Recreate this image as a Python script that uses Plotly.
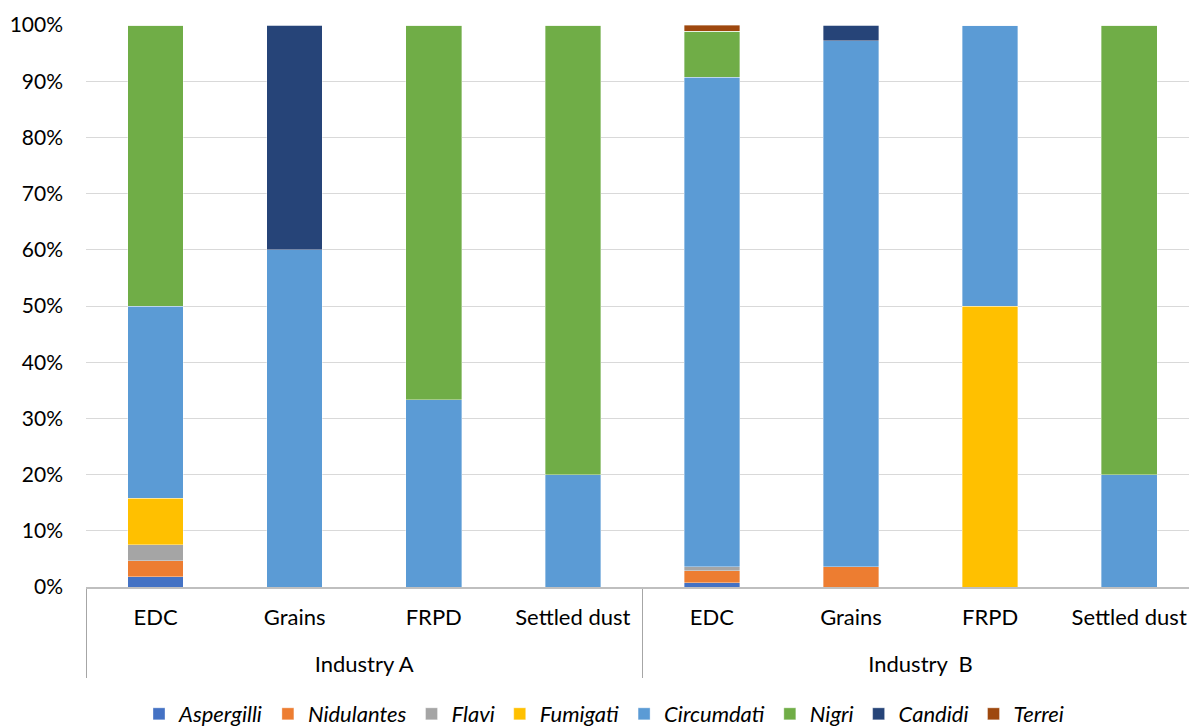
import plotly.graph_objects as go

# Sample sources grouped by industry
industries = ["Industry A"] * 4 + ["Industry\u00a0 B"] * 4
sources = ["EDC", "Grains", "FRPD", "Settled dust"] * 2

# Relative abundance (%) of each Aspergillus section per source
series = {
    "Aspergilli": [1.8, 0, 0, 0, 0.8, 0, 0, 0],
    "Nidulantes": [2.9, 0, 0, 0, 2.1, 3.6, 0, 0],
    "Flavi":      [2.8, 0, 0, 0, 0.7, 0, 0, 0],
    "Fumigati":   [8.3, 0, 0, 0, 0, 0, 50.0, 0],
    "Circumdati": [34.2, 60.0, 33.3, 20.0, 87.1, 93.6, 50.0, 20.0],
    "Nigri":      [50.0, 0, 66.7, 80.0, 8.2, 0, 0, 80.0],
    "Candidi":    [0, 40.0, 0, 0, 0, 2.8, 0, 0],
    "Terrei":     [0, 0, 0, 0, 1.1, 0, 0, 0],
}
colors = ["#4472C4", "#ED7D31", "#A5A5A5", "#FFC000",
          "#5B9BD5", "#70AD47", "#264478", "#9E480E"]

font_family = "Lato, 'Open Sans', sans-serif"

# Source labels get a small blank second line so the industry row sits lower
source_labels = [s + "<br><span style='font-size:17px'>\u00a0</span>" for s in sources]

fig = go.Figure()
for (name, vals), col in zip(series.items(), colors):
    fig.add_trace(go.Bar(
        name=name,
        x=[industries, source_labels],
        y=vals,
        marker=dict(color=col, line=dict(color="rgba(255,255,255,0.6)", width=0.6)),
        width=0.4,
    ))

fig.update_layout(
    barmode="stack",
    width=1189, height=726,
    margin=dict(l=86, r=0, t=25, b=139, autoexpand=False),
    plot_bgcolor="white", paper_bgcolor="white",
    font=dict(family=font_family, size=21, color="#000000"),
    legend=dict(
        orientation="h", traceorder="normal",
        x=0.508, xref="container", xanchor="center",
        y=0.0165, yref="container", yanchor="middle",
        font=dict(family=font_family, size=22, style="italic"),
        itemwidth=30,
    ),
)
fig.update_yaxes(
    range=[0, 100], dtick=10, ticksuffix="%",
    showgrid=True, gridcolor="#D9D9D9", gridwidth=1.3,
    zeroline=False, showline=False, ticks="",
    ticklabelstandoff=22,
    tickfont=dict(size=21),
)
fig.update_xaxes(
    type="multicategory",
    range=[-0.5, 7.43],
    tickangle=0,
    showline=True, linecolor="#BFBFBF", linewidth=1.5,
    showdividers=True, dividercolor="#A6A6A6", dividerwidth=1.3,
    ticks="", ticklabelstandoff=10,
    tickfont=dict(size=22),
)
fig.write_html("out.html")
